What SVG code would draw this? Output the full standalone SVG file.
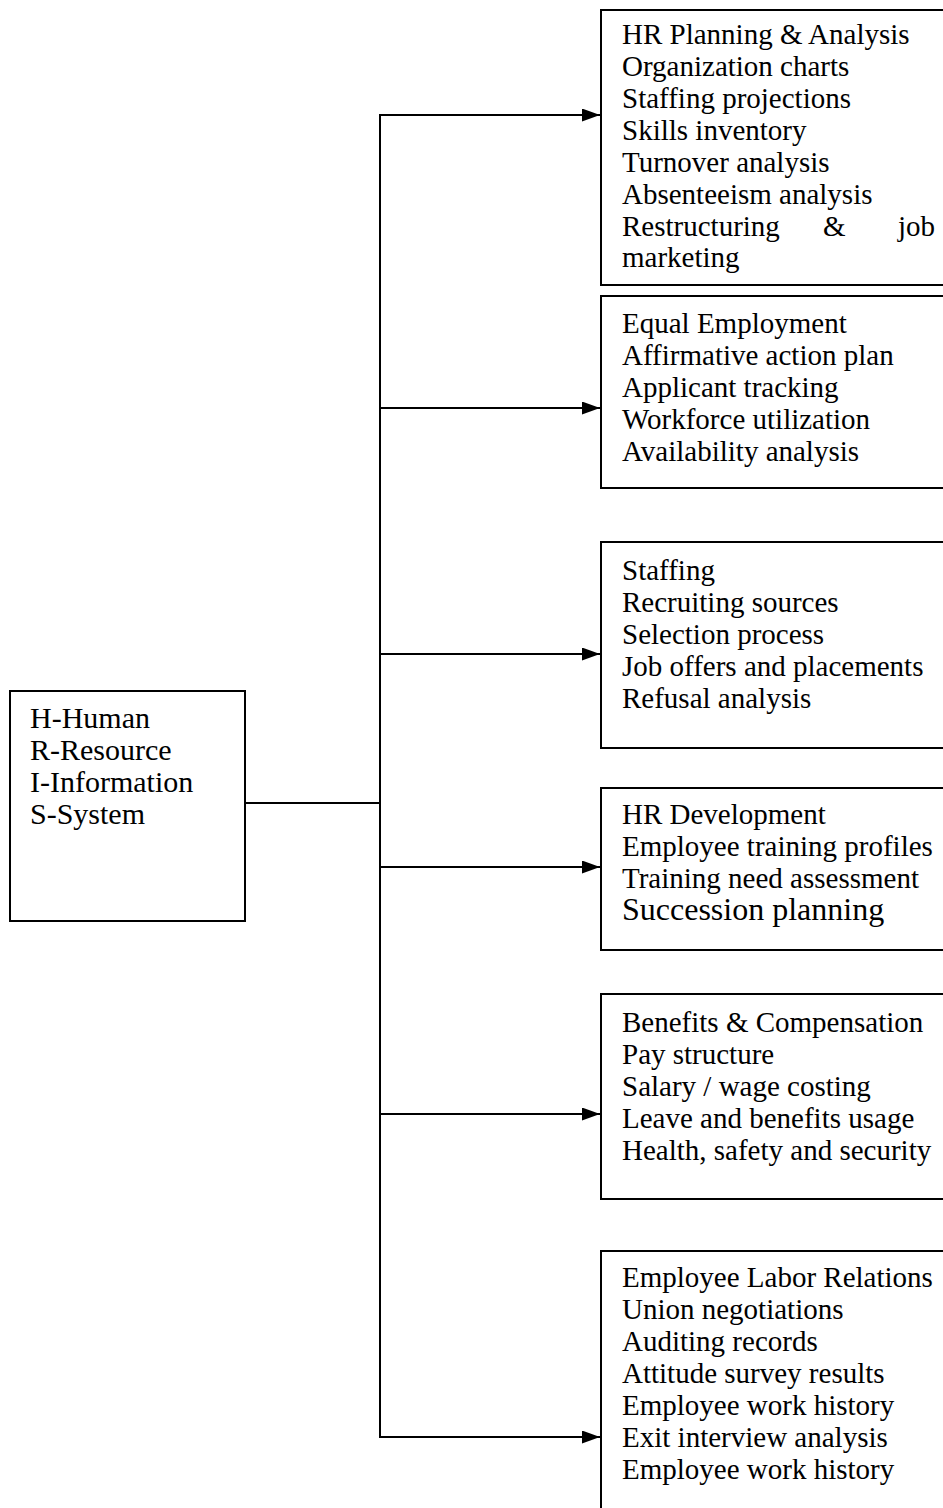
<svg xmlns="http://www.w3.org/2000/svg" width="943" height="1508" viewBox="0 0 943 1508">
<style>
  .box { fill: #ffffff; stroke: #000000; stroke-width: 2; }
  .t { font-family: "Liberation Serif", "Times New Roman", serif; font-size: 29px; fill: #000000; }
  .tl { font-family: "Liberation Serif", "Times New Roman", serif; font-size: 30px; fill: #000000; }
  .big { font-size: 32px; }
  .ln { fill: none; stroke: #000000; stroke-width: 2; }
</style>
<defs>
  <marker id="arr" viewBox="0 0 18 13" refX="18" refY="6.5" markerWidth="18" markerHeight="13" markerUnits="userSpaceOnUse" orient="auto">
    <path d="M0,0 L18,6.5 L0,13 Z" fill="#000000"/>
  </marker>
</defs>
<rect width="943" height="1508" fill="#ffffff"/>

<g id="connectors">
  <line class="ln" x1="245" y1="803" x2="380" y2="803"/>
  <line class="ln" x1="380" y1="114" x2="380" y2="1438"/>
  <line class="ln" x1="379" y1="115" x2="600" y2="115" marker-end="url(#arr)"/>
  <line class="ln" x1="379" y1="408" x2="600" y2="408" marker-end="url(#arr)"/>
  <line class="ln" x1="379" y1="654" x2="600" y2="654" marker-end="url(#arr)"/>
  <line class="ln" x1="379" y1="867" x2="600" y2="867" marker-end="url(#arr)"/>
  <line class="ln" x1="379" y1="1114" x2="600" y2="1114" marker-end="url(#arr)"/>
  <line class="ln" x1="379" y1="1437" x2="600" y2="1437" marker-end="url(#arr)"/>
</g>

<g id="hris">
  <rect class="box" x="10" y="691" width="235" height="230"/>
  <text class="tl" x="30" y="728">H-Human</text>
  <text class="tl" x="30" y="760">R-Resource</text>
  <text class="tl" x="30" y="792">I-Information</text>
  <text class="tl" x="30" y="824">S-System</text>
</g>

<g id="hr-planning">
  <rect class="box" x="601" y="10" width="360" height="275"/>
  <text class="t" x="622" y="44">HR Planning &amp; Analysis</text>
  <text class="t" x="622" y="76">Organization charts</text>
  <text class="t" x="622" y="108">Staffing projections</text>
  <text class="t" x="622" y="140">Skills inventory</text>
  <text class="t" x="622" y="172">Turnover analysis</text>
  <text class="t" x="622" y="204">Absenteeism analysis</text>
  <text class="t" y="236"><tspan x="622">Restructuring</tspan><tspan x="823">&amp;</tspan><tspan x="898">job</tspan></text>
  <text class="t" x="622" y="267">marketing</text>
</g>

<g id="equal-employment">
  <rect class="box" x="601" y="296" width="360" height="192"/>
  <text class="t" x="622" y="333">Equal Employment</text>
  <text class="t" x="622" y="365">Affirmative action plan</text>
  <text class="t" x="622" y="397">Applicant tracking</text>
  <text class="t" x="622" y="429">Workforce utilization</text>
  <text class="t" x="622" y="461">Availability analysis</text>
</g>

<g id="staffing">
  <rect class="box" x="601" y="542" width="360" height="206"/>
  <text class="t" x="622" y="580">Staffing</text>
  <text class="t" x="622" y="612">Recruiting sources</text>
  <text class="t" x="622" y="644">Selection process</text>
  <text class="t" x="622" y="676">Job offers and placements</text>
  <text class="t" x="622" y="708">Refusal analysis</text>
</g>

<g id="hr-development">
  <rect class="box" x="601" y="788" width="360" height="162"/>
  <text class="t" x="622" y="824">HR Development</text>
  <text class="t" x="622" y="856">Employee training profiles</text>
  <text class="t" x="622" y="888">Training need assessment</text>
  <text class="t big" x="622" y="920">Succession planning</text>
</g>

<g id="benefits">
  <rect class="box" x="601" y="994" width="360" height="205"/>
  <text class="t" x="622" y="1032">Benefits &amp; Compensation</text>
  <text class="t" x="622" y="1064">Pay structure</text>
  <text class="t" x="622" y="1096">Salary / wage costing</text>
  <text class="t" x="622" y="1128">Leave and benefits usage</text>
  <text class="t" x="622" y="1160">Health, safety and security</text>
</g>

<g id="labor-relations">
  <rect class="box" x="601" y="1251" width="360" height="290"/>
  <text class="t" x="622" y="1287">Employee Labor Relations</text>
  <text class="t" x="622" y="1319">Union negotiations</text>
  <text class="t" x="622" y="1351">Auditing records</text>
  <text class="t" x="622" y="1383">Attitude survey results</text>
  <text class="t" x="622" y="1415">Employee work history</text>
  <text class="t" x="622" y="1447">Exit interview analysis</text>
  <text class="t" x="622" y="1479">Employee work history</text>
</g>
</svg>
